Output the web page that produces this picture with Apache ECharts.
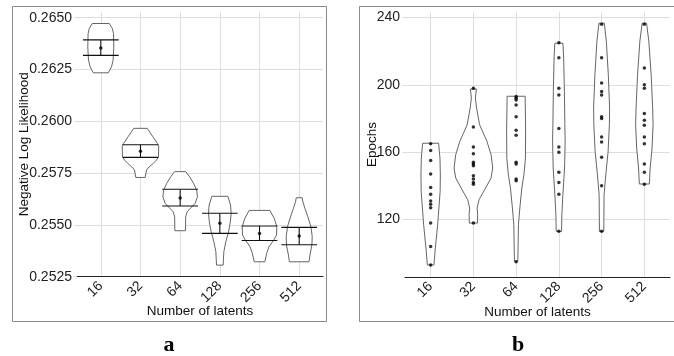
<!DOCTYPE html>
<html>
<head>
<meta charset="utf-8">
<script src="https://cdn.jsdelivr.net/npm/echarts@6/dist/echarts.min.js"></script>
<style>
  html, body { margin: 0; padding: 0; background: #fff; }
  #chart { width: 674px; height: 356px; }
</style>
</head>
<body>
<div id="chart"></div>
<script>
// categories on both x axes
const categories = ['16', '32', '64', '128', '256', '512']
const categoryPos = [1, 2, 3, 4, 5, 6]

// panel a: negative log likelihood
const nllTicks = [0.2525, 0.2550, 0.2575, 0.2600, 0.2625, 0.2650]
const nllMean = [0.26354, 0.25856, 0.25630, 0.25508, 0.25459, 0.25446]
const nllUpper = [0.26393, 0.25887, 0.25672, 0.25556, 0.25495, 0.25488]
const nllLower = [0.26318, 0.25826, 0.25591, 0.25459, 0.25425, 0.25404]

// violin outlines: [value, half width in category units], top to bottom
const nllViolin16 = [[0.26472, 0.214], [0.26448, 0.29], [0.26424, 0.32], [0.26359, 0.328], [0.26295, 0.31], [0.26263, 0.27], [0.26234, 0.189]]
const nllViolin32 = [[0.25966, 0.171], [0.25925, 0.315], [0.25893, 0.428], [0.25880, 0.459], [0.25829, 0.454], [0.25813, 0.403], [0.25797, 0.323], [0.25780, 0.219], [0.25765, 0.151], [0.25729, 0.118]]
const nllViolin64 = [[0.25757, 0.139], [0.25732, 0.239], [0.25700, 0.34], [0.25668, 0.416], [0.25636, 0.436], [0.25604, 0.378], [0.25580, 0.257], [0.25563, 0.176], [0.25539, 0.139], [0.25472, 0.134]]
const nllViolin128 = [[0.25638, 0.202], [0.25596, 0.27], [0.25556, 0.285], [0.25515, 0.265], [0.25467, 0.219], [0.25419, 0.151], [0.25371, 0.101], [0.25306, 0.083]]
const nllViolin256 = [[0.25570, 0.26], [0.25532, 0.37], [0.25491, 0.436], [0.25451, 0.428], [0.25427, 0.36], [0.25395, 0.239], [0.25363, 0.181], [0.25322, 0.134]]
const nllViolin512 = [[0.25631, 0.076], [0.25615, 0.088], [0.25580, 0.144], [0.25539, 0.219], [0.25491, 0.295], [0.25443, 0.328], [0.25403, 0.32], [0.25355, 0.272], [0.25322, 0.247]]

// panel b: epochs per run
const epochTicks = [120, 160, 200, 240]
const epochs16 = [165, 161, 155, 147, 139, 135, 131, 129, 127, 118, 104, 93]
const epochs32 = [198, 175, 163, 159, 154, 153, 152, 146, 144, 142, 141, 118]
const epochs64 = [193, 192, 191, 188, 181, 173, 170, 154, 153, 144, 143, 95]
const epochs128 = [225, 216, 198, 194, 174, 163, 160, 148, 142, 135, 113]
const epochs256 = [236, 216, 201, 196, 194, 181, 180, 169, 166, 157, 140, 113]
const epochs512 = [236, 210, 200, 198, 183, 179, 176, 169, 165, 153, 148, 141]

const epViolin16 = [[165.3, 0.187], [156.5, 0.218], [146.4, 0.227], [136.7, 0.222], [116.9, 0.164], [103.1, 0.11], [93.0, 0.077]]
const epViolin32 = [[197.5, 0.07], [192.2, 0.047], [186.2, 0.075], [176.3, 0.145], [166.5, 0.316], [158.5, 0.414], [150.6, 0.452], [144.7, 0.414], [137.7, 0.264], [131.8, 0.133], [126.8, 0.087], [122.9, 0.1], [117.9, 0.094]]
const epViolin64 = [[193.2, 0.211], [173.2, 0.222], [156.5, 0.218], [146.6, 0.182], [138.7, 0.133], [126.8, 0.087], [116.9, 0.054], [95.2, 0.04]]
const epViolin128 = [[224.7, 0.094], [215.9, 0.112], [196.2, 0.129], [176.3, 0.14], [166.5, 0.147], [150.6, 0.133], [134.7, 0.094], [122.9, 0.07], [113.0, 0.063]]
const epViolin256 = [[236.6, 0.063], [225.9, 0.11], [206.0, 0.157], [186.2, 0.187], [176.3, 0.182], [160.5, 0.152], [146.6, 0.098], [134.7, 0.058], [113.0, 0.051]]
const epViolin512 = [[236.6, 0.051], [225.9, 0.105], [206.0, 0.159], [186.2, 0.194], [176.3, 0.204], [162.5, 0.18], [150.6, 0.136], [141.1, 0.117]]

const nllViolins = [nllViolin16, nllViolin32, nllViolin64, nllViolin128, nllViolin256, nllViolin512]
const epViolins = [epViolin16, epViolin32, epViolin64, epViolin128, epViolin256, epViolin512]
const epochRuns = [epochs16, epochs32, epochs64, epochs128, epochs256, epochs512]

const FONT = "'Liberation Sans', Arial, sans-serif"
const GRID_COLOR = '#dedede'

const chart = echarts.init(document.getElementById('chart'), null, { renderer: 'canvas' })

// violin outline from a profile, mirrored around the category position
const renderViolin = (profiles) => (params, api) => {
  const prof = profiles[params.dataIndex]
  const x = api.value(0)
  const left = prof.map((p) => api.coord([x - p[1], p[0]]))
  const right = prof.slice().reverse().map((p) => api.coord([x + p[1], p[0]]))
  return {
    type: 'polygon',
    shape: { points: left.concat(right) },
    style: { fill: '#fff', stroke: '#555', lineWidth: 0.9 }
  }
}

const renderErrorBar = (params, api) => {
  const x = api.value(0)
  const lo = api.value(1)
  const hi = api.value(2)
  const half = 0.45
  const line = (a, b) => ({
    type: 'line',
    shape: { x1: a[0], y1: a[1], x2: b[0], y2: b[1] },
    style: { stroke: '#111', lineWidth: 1.1 }
  })
  return {
    type: 'group',
    children: [
      line(api.coord([x - half, hi]), api.coord([x + half, hi])),
      line(api.coord([x - half, lo]), api.coord([x + half, lo])),
      line(api.coord([x, lo]), api.coord([x, hi]))
    ]
  }
}

const xAxisBase = (gridIndex) => ({
  type: 'value',
  gridIndex,
  min: 0.4,
  max: 6.6,
  axisLine: { show: true, lineStyle: { color: '#222', width: 1 } },
  axisTick: { show: false, customValues: categoryPos },
  axisLabel: {
    customValues: categoryPos,
    formatter: (v) => categories[Math.round(v) - 1],
    rotate: 45,
    margin: 7,
    fontSize: 14,
    color: '#222',
    fontFamily: FONT
  },
  splitLine: { show: true, lineStyle: { color: GRID_COLOR, width: 1 } },
  name: 'Number of latents',
  nameLocation: 'middle',
  nameGap: 28,
  nameMoveOverlap: false,
  nameTextStyle: { fontSize: 13.5, color: '#111', fontFamily: FONT }
})

const yAxisBase = (gridIndex) => ({
  type: 'value',
  gridIndex,
  axisLine: { show: false },
  axisTick: { show: true, length: 3, lineStyle: { color: GRID_COLOR } },
  axisLabel: { fontSize: 14, color: '#222', fontFamily: FONT, margin: 5 },
  splitLine: { show: true, lineStyle: { color: GRID_COLOR, width: 1 } },
  nameLocation: 'middle',
  nameMoveOverlap: false,
  nameTextStyle: { fontSize: 13.5, color: '#111', fontFamily: FONT }
})

const option = {
  animation: false,
  backgroundColor: '#fff',
  grid: [
    { left: 77, right: 351, top: 11.7, bottom: 79.3 },
    { left: 405, right: 4, top: 11.7, bottom: 78.7 }
  ],
  xAxis: [xAxisBase(0), xAxisBase(1)],
  yAxis: [
    {
      ...yAxisBase(0),
      min: 0.2525,
      max: 0.26529,
      axisTick: { show: true, length: 3, lineStyle: { color: GRID_COLOR }, customValues: nllTicks },
      axisLabel: { ...yAxisBase(0).axisLabel, customValues: nllTicks, formatter: (v) => v.toFixed(4) },
      name: 'Negative Log Likelihood',
      nameGap: 46
    },
    {
      ...yAxisBase(1),
      min: 85.7,
      max: 243.4,
      axisTick: { show: true, length: 3, lineStyle: { color: GRID_COLOR }, customValues: epochTicks },
      axisLabel: { ...yAxisBase(1).axisLabel, customValues: epochTicks },
      name: 'Epochs',
      nameGap: 26
    }
  ],
  series: [
    {
      type: 'custom',
      xAxisIndex: 0,
      yAxisIndex: 0,
      renderItem: renderViolin(nllViolins),
      data: categoryPos.map((x, i) => [x, nllMean[i]]),
      z: 2
    },
    {
      type: 'custom',
      xAxisIndex: 0,
      yAxisIndex: 0,
      renderItem: renderErrorBar,
      data: categoryPos.map((x, i) => [x, nllLower[i], nllUpper[i]]),
      z: 3
    },
    {
      type: 'scatter',
      xAxisIndex: 0,
      yAxisIndex: 0,
      symbolSize: 3.5,
      itemStyle: { color: '#000' },
      data: categoryPos.map((x, i) => [x, nllMean[i]]),
      z: 4
    },
    {
      type: 'custom',
      xAxisIndex: 1,
      yAxisIndex: 1,
      renderItem: renderViolin(epViolins),
      data: categoryPos.map((x, i) => [x, epViolins[i][0][0]]),
      z: 2
    },
    {
      type: 'scatter',
      xAxisIndex: 1,
      yAxisIndex: 1,
      symbolSize: 3.5,
      itemStyle: { color: '#000' },
      data: epochRuns.flatMap((runs, i) => runs.map((v) => [categoryPos[i], v])),
      z: 4
    }
  ],
  graphic: [
    {
      type: 'rect',
      shape: { x: 12.5, y: 6.5, width: 314, height: 315 },
      style: { fill: null, stroke: '#8a8a8a', lineWidth: 1 },
      silent: true
    },
    {
      type: 'rect',
      shape: { x: 359.5, y: 6.5, width: 318, height: 315 },
      style: { fill: null, stroke: '#8a8a8a', lineWidth: 1 },
      silent: true
    },
    {
      type: 'text',
      left: 169.5 - 6,
      top: 334,
      style: { text: 'a', font: "bold 22px 'Liberation Serif', 'DejaVu Serif', serif", fill: '#000' }
    },
    {
      type: 'text',
      left: 518 - 6,
      top: 334,
      style: { text: 'b', font: "bold 22px 'Liberation Serif', 'DejaVu Serif', serif", fill: '#000' }
    }
  ]
}

chart.setOption(option)
</script>
</body>
</html>
